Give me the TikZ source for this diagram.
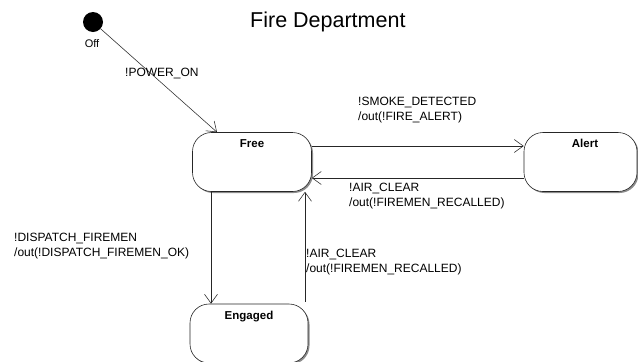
\documentclass[tikz,border=0pt]{standalone}
\usepackage{fontspec}
\setmainfont{Liberation Sans}
\usetikzlibrary{arrows.meta,shadows}
\begin{document}
\begin{tikzpicture}[x=1bp,y=-1bp,
  state/.style={draw=black!85, line width=0.6bp, rounded corners=19bp, fill=white,
    drop shadow={shadow xshift=1.5bp, shadow yshift=-1.5bp, fill=black!45, opacity=1},
    inner xsep=0bp, inner ysep=5bp, text height=10bp, text depth=39bp,
    font=\fontsize{11.5bp}{14bp}\selectfont\bfseries},
  tr/.style={draw=black!85, line width=0.55bp, -{Straight Barb[length=9bp,width=13bp,line width=0.55bp]}},
  lbl/.style={anchor=north west, inner sep=0bp, align=left, font=\fontsize{12bp}{14.5bp}\selectfont}]
\useasboundingbox (0,0) rectangle (638,361);
\fill[white] (0,0) rectangle (638,361);
\node[anchor=north west, inner sep=0bp, font=\fontsize{21.5bp}{24bp}\selectfont] (title) at (250,12) {Fire Department};
\node[circle, fill=black, inner sep=0bp, minimum size=20bp] (off) at (93,22) {};
\node[anchor=north, inner sep=0bp, font=\fontsize{11bp}{13bp}\selectfont] (offl) at (92,39) {Off};
\node[state, minimum width=119bp] (free) at (252,162) {Free};
\node[state, minimum width=113bp] (alert) at (580.5,162) {\hspace*{9bp}Alert};
\node[state, minimum width=118bp] (engaged) at (249,333.5) {Engaged};
\draw[tr] (off) -- ([xshift=-35bp]free.north);
\draw[tr] (free.east |- 0,146) -- (alert.west |- 0,146);
\draw[tr] (alert.west |- 0,178) -- (free.east |- 0,178);
\draw[tr] (free.south -| 211,0) -- (engaged.north -| 211,0);
\draw[tr] ([yshift=2bp]engaged.north -| 305,0) -- (free.south -| 305,0);
\node[lbl] (l1) at (125,68) {!POWER\_ON};
\node[lbl] (l2) at (358,97) {!SMOKE\_DETECTED\\/out(!FIRE\_ALERT)};
\node[lbl] (l3) at (349,183) {!AIR\_CLEAR\\/out(!FIREMEN\_RECALLED)};
\node[lbl] (l4) at (14,233) {!DISPATCH\_FIREMEN\\/out(!DISPATCH\_FIREMEN\_OK)};
\node[lbl] (l5) at (306,249) {!AIR\_CLEAR\\/out(!FIREMEN\_RECALLED)};
\end{tikzpicture}
\end{document}
